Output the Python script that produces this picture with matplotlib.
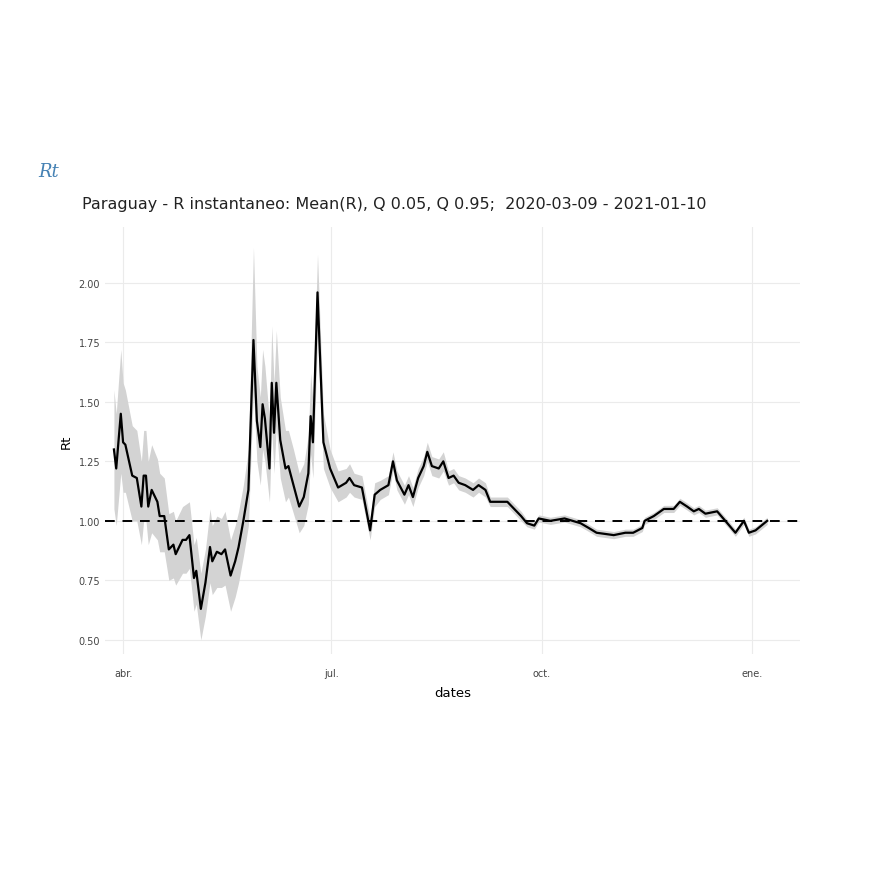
import matplotlib
matplotlib.use("Agg")
import matplotlib.pyplot as plt
import pandas as pd

# days after 2020-04-01
day_offsets = [-4, -3, -1, 0, 1, 4, 6, 8, 9, 10, 11, 12.5, 15, 16, 18, 20, 22, 23, 26, 27.5, 29, 31, 32, 34, 36,
               38, 39, 41, 43, 44.6, 47, 49, 50.5, 52.6, 54.8, 57, 58.5, 60, 61, 62, 64, 65, 66, 67, 68.7, 71,
               72.3, 74.5, 77, 79, 81, 82, 83, 85, 87.6, 90.5, 94, 97.5, 99, 101, 104.4, 108, 110, 112.4, 116,
               118, 119.7, 123, 124.8, 126.7, 129, 131.4, 133, 135, 138, 140, 142.3, 144.5, 146.7, 149.6, 153,
               155.4, 158.4, 160.5, 163.5, 168, 171, 174, 176.6, 179.8, 181.7, 186.8, 193, 200, 203.6, 207,
               214.5, 219.6, 223, 227, 228, 232, 236.4, 240.7, 243.4, 246.6, 249.5, 251.7, 254.6, 259.7, 263.3,
               267.7, 271.4, 273.6, 276.5, 281.6]
r_mean = [1.30, 1.22, 1.45, 1.33, 1.32, 1.19, 1.18, 1.06, 1.19, 1.19, 1.06, 1.13, 1.08, 1.02, 1.02, 0.88, 0.90,
          0.86, 0.92, 0.92, 0.94, 0.76, 0.79, 0.63, 0.74, 0.89, 0.83, 0.87, 0.86, 0.88, 0.77, 0.83, 0.89, 1.00,
          1.13, 1.76, 1.42, 1.31, 1.49, 1.43, 1.22, 1.58, 1.37, 1.58, 1.34, 1.22, 1.23, 1.15, 1.06, 1.10, 1.20,
          1.44, 1.33, 1.96, 1.33, 1.22, 1.14, 1.16, 1.18, 1.15, 1.14, 0.96, 1.11, 1.13, 1.15, 1.25, 1.17, 1.11,
          1.15, 1.10, 1.18, 1.23, 1.29, 1.23, 1.22, 1.25, 1.18, 1.19, 1.16, 1.15, 1.13, 1.15, 1.13, 1.08, 1.08,
          1.08, 1.05, 1.02, 0.99, 0.98, 1.01, 1.00, 1.01, 0.99, 0.97, 0.95, 0.94, 0.95, 0.95, 0.97, 1.00, 1.02,
          1.05, 1.05, 1.08, 1.06, 1.04, 1.05, 1.03, 1.04, 1.00, 0.95, 1.00, 0.95, 0.96, 1.00]
r_q05 = [1.05, 0.98, 1.20, 1.12, 1.12, 1.00, 1.00, 0.90, 1.00, 1.00, 0.90, 0.95, 0.92, 0.87, 0.87, 0.75, 0.76,
         0.73, 0.78, 0.78, 0.80, 0.62, 0.65, 0.50, 0.60, 0.74, 0.69, 0.72, 0.72, 0.73, 0.62, 0.68, 0.74, 0.85,
         0.98, 1.55, 1.25, 1.15, 1.30, 1.25, 1.08, 1.38, 1.20, 1.40, 1.18, 1.08, 1.10, 1.03, 0.95, 0.98, 1.07,
         1.28, 1.18, 1.78, 1.22, 1.14, 1.08, 1.10, 1.12, 1.10, 1.09, 0.92, 1.06, 1.09, 1.11, 1.21, 1.13, 1.07,
         1.11, 1.06, 1.14, 1.19, 1.25, 1.19, 1.18, 1.21, 1.15, 1.16, 1.13, 1.12, 1.10, 1.12, 1.10, 1.06, 1.06,
         1.06, 1.03, 1.00, 0.975, 0.965, 0.995, 0.985, 0.995, 0.975, 0.955, 0.935, 0.925, 0.935, 0.935, 0.955,
         0.985, 1.005, 1.035, 1.035, 1.065, 1.045, 1.025, 1.035, 1.015, 1.025, 0.985, 0.935, 0.985, 0.935,
         0.945, 0.985]
r_q95 = [1.55, 1.45, 1.72, 1.58, 1.55, 1.40, 1.38, 1.25, 1.38, 1.38, 1.25, 1.32, 1.26, 1.20, 1.18, 1.03, 1.04,
         1.00, 1.06, 1.07, 1.08, 0.90, 0.93, 0.78, 0.88, 1.05, 0.98, 1.02, 1.01, 1.04, 0.92, 0.98, 1.04, 1.15,
         1.30, 2.15, 1.65, 1.52, 1.72, 1.65, 1.42, 1.82, 1.58, 1.80, 1.52, 1.38, 1.38, 1.30, 1.20, 1.24, 1.36,
         1.62, 1.50, 2.12, 1.45, 1.30, 1.21, 1.22, 1.24, 1.20, 1.19, 1.01, 1.16, 1.17, 1.19, 1.29, 1.21, 1.15,
         1.19, 1.14, 1.22, 1.27, 1.33, 1.27, 1.26, 1.29, 1.21, 1.22, 1.19, 1.18, 1.16, 1.18, 1.16, 1.10, 1.10,
         1.10, 1.07, 1.04, 1.005, 0.995, 1.025, 1.015, 1.025, 1.005, 0.985, 0.965, 0.955, 0.965, 0.965, 0.985,
         1.015, 1.035, 1.065, 1.065, 1.095, 1.075, 1.055, 1.065, 1.045, 1.055, 1.015, 0.965, 1.015, 0.965,
         0.975, 1.015]

tick_dates = ["2020-04-01", "2020-07-01", "2020-10-01", "2021-01-01"]
tick_labels = ["abr.", "jul.", "oct.", "ene."]
y_ticks = [0.50, 0.75, 1.00, 1.25, 1.50, 1.75, 2.00]

base = pd.Timestamp("2020-04-01")
dates = [base + pd.Timedelta(hours=round(d * 24)) for d in day_offsets]

fig = plt.figure(figsize=(8.7, 8.7), dpi=100)
ax = fig.add_axes([0.1207, 0.247, 0.799, 0.491])
ax.fill_between(dates, r_q05, r_q95, color="#d3d3d3", linewidth=0)
ax.plot(dates, r_mean, color="black", linewidth=1.6)
ax.axhline(1.0, color="black", linestyle=(0, (5, 4)), linewidth=1.4)

ax.set_xlim(base - pd.Timedelta(days=7.9), base + pd.Timedelta(days=296))
ax.set_ylim(0.44, 2.235)
ax.set_yticks(y_ticks)
ax.set_yticklabels([f"{v:.2f}" for v in y_ticks])
ax.set_xticks([pd.Timestamp(t) for t in tick_dates])
ax.set_xticklabels(tick_labels)
ax.tick_params(length=0, labelsize=7, colors="#444444")
ax.tick_params(axis="x", pad=10)
ax.grid(True, color="#ebebeb", linewidth=0.8)
ax.set_axisbelow(True)
for s in ax.spines.values():
    s.set_visible(False)
ax.set_ylabel("Rt", fontsize=9.5)
ax.set_xlabel("dates", fontsize=9.5, labelpad=6)
fig.text(82 / 870, 1 - 205 / 870, "Paraguay - R instantaneo: Mean(R), Q 0.05, Q 0.95;  2020-03-09 - 2021-01-10",
         fontsize=11.5, color="#222222", ha="left", va="center")
fig.text(0.044, 1 - 172 / 870, "Rt", fontsize=13, color="#4682b4", style="italic",
         family="DejaVu Serif", va="center")
fig.savefig("out.png", dpi=100, facecolor="white")
